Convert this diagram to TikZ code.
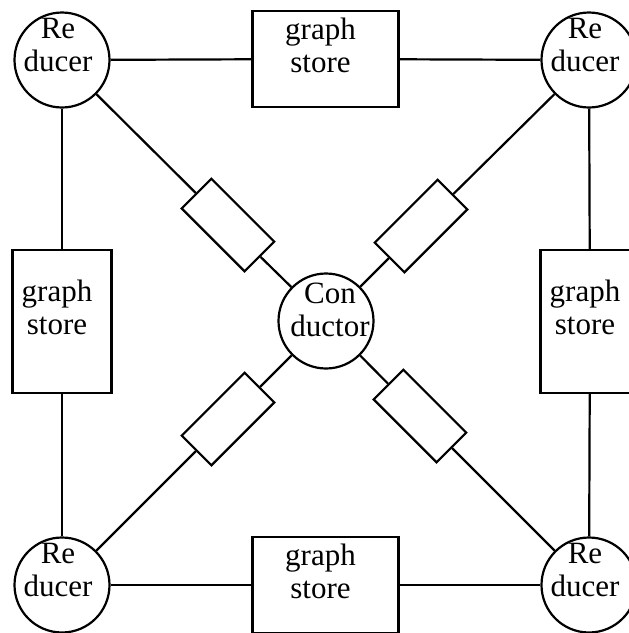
\documentclass[tikz,border=0pt]{standalone}
\usepackage{fontspec}
\setmainfont{Liberation Serif}

\begin{document}
\begin{tikzpicture}[x=1pt, y=-1pt, line width=2.2pt,
    every node/.style = {font=\fontsize{31}{33}\selectfont, align=center},
    unit/.style = {shape=circle, draw, minimum size=95pt, inner sep=0pt},
    store/.style = {shape=rectangle, draw, inner sep=0pt},
    wide/.style = {store, minimum width=146pt, minimum height=96pt},
    tall/.style = {store, minimum width=99pt, minimum height=143pt},
    port/.style = {shape=rectangle, draw, inner sep=0pt,
      minimum width=89pt, minimum height=42pt},
    word/.style = {inner sep=0pt}]
    \useasboundingbox (0,0) rectangle (629,633);
    \clip (0,0) rectangle (629,633);
    % reducers in the corners, conductor in the middle
    \node[unit] (r1) at (62,60) {};
    \node[unit] (r2) at (589,60) {};
    \node[unit] (r3) at (62,585) {};
    \node[unit] (r4) at (589,585) {};
    \node[unit] (cond) at (326,321) {};
    \foreach \r in {r1,r2,r3,r4}
      \node[word] (\r-txt) at ([shift={(-4,-15.5)}]\r) {Re\\ducer};
    \node[word] (cond-txt) at ([shift={(4,-11)}]cond) {Con\\ductor};
    % graph stores between the reducers
    \node[wide] (s1) at (325.5,59) {};
    \node[wide] (s4) at (325.5,585) {};
    \node[tall] (s2) at (62,321.5) {};
    \node[tall] (s3) at (590,321.5) {};
    \foreach \s in {s1,s2,s3,s4}
      \node[word] (\s-txt) at ([shift={(-5,-14)}]\s) {graph\\store};
    % links to the conductor
    \node[port, rotate=-45] (p1) at (228,225) {};
    \node[port, rotate=45] (p2) at (421,226) {};
    \node[port, rotate=45] (p3) at (228,419) {};
    \node[port, rotate=-45] (p4) at (420,416) {};
    \draw (r1) -- (s1) -- (r2);
    \draw (r3) -- (s4) -- (r4);
    \draw (r1) -- (s2) -- (r3);
    \draw (r2) -- (s3) -- (r4);
    \draw (r1) -- (p1) -- (cond);
    \draw (r2) -- (p2) -- (cond);
    \draw (r3) -- (p3) -- (cond);
    \draw (r4) -- (p4) -- (cond);
\end{tikzpicture}
\end{document}
